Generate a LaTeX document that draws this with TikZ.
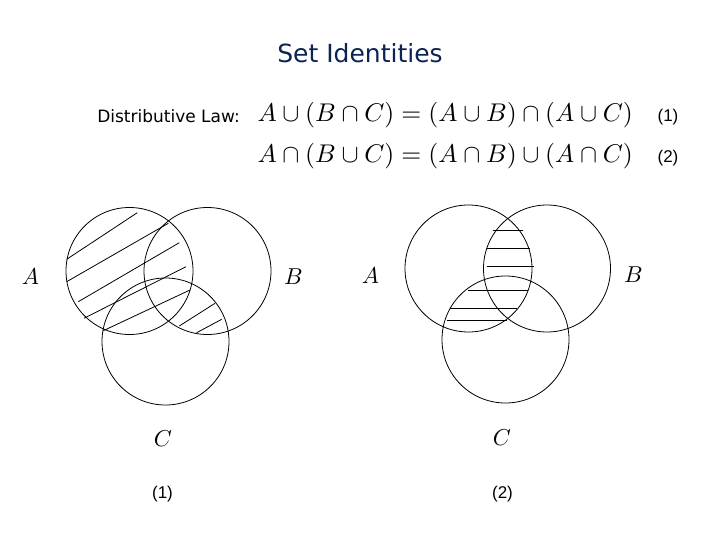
\documentclass[tikz,border=0pt]{standalone}
\usepackage{fontspec}
\newfontfamily\comicfont{DejaVu Sans}
\newfontfamily\armfont{Liberation Sans}
\definecolor{titleblue}{RGB}{12,36,82}
\tikzset{
  venn/.style={line width=0.8pt},
  hatch/.style={line width=0.8pt},
  setlabel/.style={scale=2.3,inner sep=0pt},
  eqtext/.style={scale=2.56,inner sep=0pt,anchor=base west},
  numtext/.style={font=\armfont\fontsize{17}{20}\selectfont,inner sep=0pt}
}
\begin{document}
\begin{tikzpicture}[x=1pt,y=-1pt]
  \useasboundingbox (0,0) rectangle (720,540);
  % heading and the two laws
  \node[text=titleblue,font=\comicfont\fontsize{25}{30}\selectfont] (title) at (360,53) {Set Identities};
  \node[font=\comicfont\fontsize{17}{20}\selectfont,anchor=base east,inner sep=0pt] (law) at (240,123) {Distributive Law:};
  \node[eqtext] (eqone) at (257,122) {$A\cup(B\cap C)=(A\cup B)\cap(A\cup C)$};
  \node[eqtext] (eqtwo) at (257,163) {$A\cap(B\cup C)=(A\cap B)\cup(A\cap C)$};
  \node[numtext,anchor=base] (numone) at (668,122) {(1)};
  \node[numtext,anchor=base] (numtwo) at (668,163) {(2)};
  % diagram (1): A union (B cap C)
  \begin{scope}
    \draw[hatch] (66.7,259.3) -- (137.3,212.7);
    \draw[hatch] (66.7,281.7) -- (168.3,223.3);
    \draw[hatch] (78.3,301.7) -- (179.3,242.7);
    \draw[hatch] (84.0,318.3) -- (186.0,266.7);
    \draw[hatch] (103.3,330.7) -- (190.0,290.0);
    \draw[hatch] (179.3,326.0) -- (215.0,303.3);
    \draw[hatch] (196.7,332.7) -- (221.7,319.3);
    \draw[venn] (129.5,271) circle[radius=63.5pt];
    \draw[venn] (207.5,271) circle[radius=63.5pt];
    \draw[venn] (165.5,341.5) circle[radius=63.5pt];
    \node[setlabel] (lA) at (30.5,277) {$A$};
    \node[setlabel] (lB) at (293.5,277) {$B$};
    \node[setlabel] (lC) at (163,439) {$C$};
    \node[numtext] (lnum) at (162.5,494) {(1)};
  \end{scope}
  % diagram (2): A cap (B cup C)
  \begin{scope}
    \draw[hatch] (492.7,230.0) -- (522.7,230.0);
    \draw[hatch] (486.7,248.3) -- (530.0,248.3);
    \draw[hatch] (486.7,266.7) -- (534.3,266.7);
    \draw[hatch] (468.3,290.0) -- (528.3,290.0);
    \draw[hatch] (450.0,308.3) -- (516.7,308.3);
    \draw[hatch] (446.7,320.0) -- (506.7,320.0);
    \draw[venn] (468.5,268.5) circle[radius=63.5pt];
    \draw[venn] (547,268.5) circle[radius=63.5pt];
    \draw[venn] (505.5,339.5) circle[radius=63.5pt];
    \node[setlabel] (rA) at (370.5,275.5) {$A$};
    \node[setlabel] (rB) at (633.5,275) {$B$};
    \node[setlabel] (rC) at (502,438) {$C$};
    \node[numtext] (rnum) at (502.5,494) {(2)};
  \end{scope}
\end{tikzpicture}
\end{document}
